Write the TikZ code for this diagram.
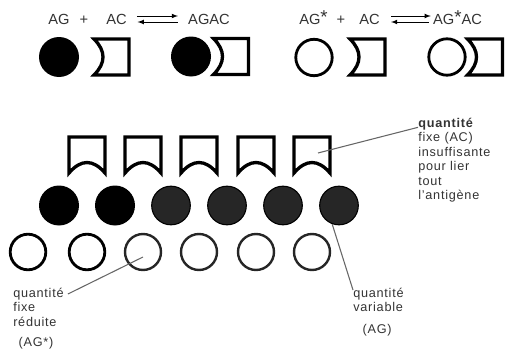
\documentclass[tikz,border=0pt]{standalone}
\usepackage{fontspec}
\setmainfont{Liberation Sans}
\newfontfamily\lblfont[LetterSpace=6]{Liberation Sans}
\usepackage{tikz}
\tikzset{>=latex}
\newcommand*{\STAR}{\raisebox{1.5pt}{\fontsize{14}{14}\selectfont *}}
\tikzset{
    eq/.style={font=\fontsize{11}{13}\selectfont, text=black!80, anchor=base, inner sep=1pt},
    lbl/.style={font=\lblfont\fontsize{9.5}{10.8}\selectfont, text=black!80, align=left, anchor=north west, inner sep=0pt},
    lead/.style={black!60, line width=0.8pt},
    recep/.style={line width=2.5pt, fill=white},
    agb/.style={circle, fill=black, minimum size=30pt, inner sep=0pt},
    agg/.style={circle, fill=black!85, draw=black, line width=0.8pt, minimum size=29pt, inner sep=0pt},
    ags/.style={circle, draw=black, line width=2.1pt, minimum size=26.7pt, inner sep=0pt},
    agl/.style={ags, draw=black!85, line width=1.8pt, minimum size=27pt},
    achor/.pic={\draw[recep](-17.5,-18)--(17.5,-18)--(17.5,18)--(-17.5,18) .. controls (-5.5,6) and (-5.5,-6) .. cycle;},
    acver/.pic={\draw[recep](18,18)--(18,-18)--(-18,-18)--(-18,18) .. controls (-6,4) and (6,4) .. cycle;}
}

\begin{document}
\begin{tikzpicture}[x=0.75pt, y=-0.75pt]
    \useasboundingbox(0,0)rectangle(508,357);
    % AG + AC <-> AGAC
    \node[eq](ag)at(59,25){AG};
    \node[eq](plusa)at(84,25){+};
    \node[eq](ac)at(116.5,25){AC};
    \node[eq](agac)at(209,25){AGAC};
    \draw[line width=0.6pt, -latex]([xshift=6.5pt, yshift=6.75pt]ac.base east)--([xshift=-6.5pt, yshift=6.75pt]agac.base west);
    \draw[line width=0.6pt, latex-]([xshift=7pt, yshift=2.25pt]ac.base east)--([xshift=-6.5pt, yshift=2.25pt]agac.base west);
    % AG* + AC <-> AG*AC
    \node[eq](ags)at(313.5,25){AG\STAR};
    \node[eq](plusb)at(341,25){+};
    \node[eq](acb)at(369.5,25){AC};
    \node[eq](agsac)at(457.5,25){AG\STAR AC};
    \draw[line width=0.6pt, -latex]([xshift=7.3pt, yshift=6.75pt]acb.base east)--([xshift=-0.5pt, yshift=6.75pt]agsac.base west);
    \draw[line width=0.6pt, latex-]([xshift=7.3pt, yshift=2.25pt]acb.base east)--([xshift=-1.5pt, yshift=2.25pt]agsac.base west);
    % molecules of the first line
    \node[agb](aga)at(59,57){};
    \pic at(111.5,57){achor};
    \node[agb](agc)at(191,56.5){};
    \pic at(231,56.5){achor};
    \node[ags, minimum size=27.3pt](asa)at(314,57.5){};
    \pic at(367.5,57){achor};
    \node[ags, minimum size=27.3pt](asc)at(447,57){};
    \pic at(485,57){achor};
    % fixed AC
    \pic at(87,155){acver};
    \pic at(143,155){acver};
    \pic at(199,155){acver};
    \pic at(256,155){acver};
    \pic at(312,155){acver};
    % variable AG
    \node[agb](ag1)at(59,205.5){};
    \node[agb](ag2)at(115,205.5){};
    \node[agg](ag3)at(171,205.5){};
    \node[agg](ag4)at(227,205.5){};
    \node[agg](ag5)at(283,205.5){};
    \node[agg](ag6)at(339,205.5){};
    % labelled AG*
    \node[ags](st1)at(28,252){};
    \node[ags](st2)at(87,252){};
    \node[agl](st3)at(143,252){};
    \node[agl](st4)at(199,252){};
    \node[agl](st5)at(256,252){};
    \node[agl](st6)at(312,252){};
    % legends
    \node[lbl](lac)at(418,118){\textbf{quantité}\\fixe (AC)\\insuffisante\\pour lier\\tout\\l’antigène};
    \node[lbl](lag)at(353,288){quantité\\variable\\[5pt]\hspace*{7pt}(AG)};
    \node[lbl](lags)at(13,288){quantité\\fixe\\réduite\\[4pt]\hspace*{4pt}(AG*)};
    \coordinate(acin)at(318,153);
    \draw[lead](acin)--([yshift=-7pt]lac.north west);
    \draw[lead](ag6.-110)--([yshift=-1.5pt]lag.north west);
    \draw[lead]([xshift=3pt, yshift=-4.5pt]lags.north east)--([yshift=-3.75pt]st3.center);
\end{tikzpicture}
\end{document}
